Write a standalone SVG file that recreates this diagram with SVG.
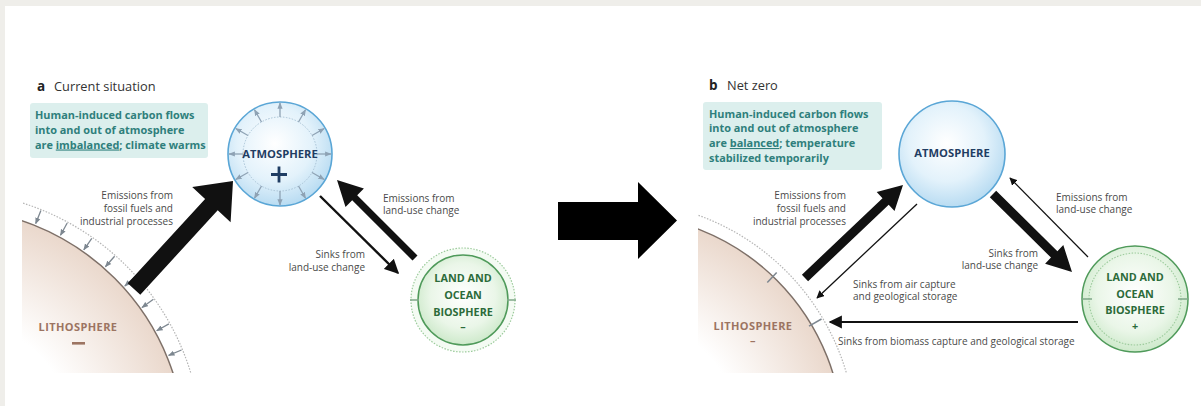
<svg xmlns="http://www.w3.org/2000/svg" width="1201" height="406" viewBox="0 0 1201 406">
<style>
.t{font-family:"Open Sans","Liberation Sans",sans-serif}
.lbl{font-family:"Open Sans","Liberation Sans",sans-serif;font-size:10px;fill:#4a4a4a}
.box{font-family:"Open Sans","Liberation Sans",sans-serif;font-size:10.9px;font-weight:bold;fill:#2f7f7c}
.atm{font-family:"Open Sans","Liberation Sans",sans-serif;font-size:11.2px;font-weight:bold;fill:#1f3d63}
.land{font-family:"Open Sans","Liberation Sans",sans-serif;font-size:10.8px;font-weight:bold;fill:#2c6b3a}
.lith{font-family:"Open Sans","Liberation Sans",sans-serif;font-size:11px;font-weight:bold;fill:#9c7462;letter-spacing:0.4px}
.thick{fill:#111}
.thin{stroke:#111;fill:none}
.tick{stroke:#8ea2b4;stroke-width:1.3}
</style>
<defs>
<radialGradient id="gAtm" cx="0.45" cy="0.4" r="0.6">
<stop offset="0" stop-color="#ffffff"/>
<stop offset="0.6" stop-color="#e3f2fb"/>
<stop offset="1" stop-color="#b9dcf2"/>
</radialGradient>
<radialGradient id="gLand" cx="0.5" cy="0.45" r="0.6">
<stop offset="0" stop-color="#ffffff"/>
<stop offset="0.6" stop-color="#eaf6e8"/>
<stop offset="1" stop-color="#c6e6c3"/>
</radialGradient>
<radialGradient id="gLithA" gradientUnits="userSpaceOnUse" cx="-55" cy="448" r="240">
<stop offset="0.55" stop-color="#ffffff"/>
<stop offset="1" stop-color="#ead8cc"/>
</radialGradient>
<radialGradient id="gLithB" gradientUnits="userSpaceOnUse" cx="617" cy="440" r="226">
<stop offset="0.55" stop-color="#ffffff"/>
<stop offset="1" stop-color="#ead8cc"/>
</radialGradient>
<clipPath id="clipA"><rect x="22" y="150" width="300" height="223"/></clipPath>
<clipPath id="clipB"><rect x="698" y="150" width="300" height="223"/></clipPath>
<marker id="mh" viewBox="0 0 10 10" refX="9" refY="5" markerWidth="6" markerHeight="6" orient="auto">
<path d="M0,0 L10,5 L0,10 z" fill="#111"/>
</marker>
<marker id="tk" viewBox="0 0 10 10" refX="9" refY="5" markerWidth="5" markerHeight="5" orient="auto">
<path d="M0,1 L10,5 L0,9 z" fill="#8ea2b4"/>
</marker>
<marker id="tkl" viewBox="0 0 10 10" refX="9" refY="5" markerWidth="5" markerHeight="5" orient="auto">
<path d="M0,1 L10,5 L0,9 z" fill="#7d8790"/>
</marker>
</defs>

<rect x="0" y="0" width="1201" height="406" fill="#ffffff"/>
<rect x="0" y="0" width="1201" height="6" fill="#efeeea"/>
<rect x="0" y="0" width="5" height="406" fill="#efeeea"/>

<!-- Panel a -->
<g id="title-a">
<text class="t" x="37" y="91" font-size="13.5" font-weight="bold" fill="#222">a</text>
<text class="t" x="54" y="91" font-size="12.8" fill="#333">Current situation</text>
</g>
<g id="note-a">
<rect x="30" y="103" width="178" height="55" rx="3" fill="#dcefed"/>
<text class="box" x="35" y="119">Human-induced carbon flows</text>
<text class="box" x="35" y="133.8">into and out of atmosphere</text>
<text class="box" x="35" y="148.5">are <tspan text-decoration="underline">imbalanced</tspan>; climate warms</text>
</g>

<g id="lithosphere-a">
<g clip-path="url(#clipA)">
<circle cx="-55" cy="448" r="257" fill="#ffffff" stroke="#b5b5b5" stroke-width="1.2" stroke-dasharray="1.5 1.5"/>
<circle cx="-55" cy="448" r="240" fill="url(#gLithA)" stroke="#7e7068" stroke-width="1.5"/>
<g class="tick" style="stroke:#7d8790">
<line x1="40.9" y1="210.6" x2="35.7" y2="223.6" marker-end="url(#tkl)"/>
<line x1="67.2" y1="223.0" x2="60.5" y2="235.3" marker-end="url(#tkl)"/>
<line x1="91.8" y1="238.3" x2="83.8" y2="249.8" marker-end="url(#tkl)"/>
<line x1="114.6" y1="256.3" x2="105.4" y2="266.7" marker-end="url(#tkl)"/>
<line x1="135.2" y1="276.7" x2="124.8" y2="286.1" marker-end="url(#tkl)"/>
<line x1="153.4" y1="299.3" x2="142.0" y2="307.5" marker-end="url(#tkl)"/>
<line x1="168.9" y1="323.9" x2="156.7" y2="330.7" marker-end="url(#tkl)"/>
<line x1="181.5" y1="350.0" x2="168.6" y2="355.4" marker-end="url(#tkl)"/>
</g>
</g>
<text class="lith" x="78" y="331" text-anchor="middle">LITHOSPHERE</text>
<rect x="72" y="342" width="13" height="2.6" fill="#9c7462"/>
</g>

<g id="atmosphere-a">
<circle cx="280" cy="154" r="52" fill="url(#gAtm)" stroke="#5aa6d6" stroke-width="1.6"/>
<circle cx="280" cy="154" r="37" fill="none" stroke="#a9c3d6" stroke-width="1" stroke-dasharray="1.5 1.5"/>
<g class="tick">
<line x1="317" y1="154" x2="331" y2="154" marker-end="url(#tk)"/>
<line x1="312" y1="135.5" x2="324.2" y2="128.5" marker-end="url(#tk)"/>
<line x1="298.5" y1="122" x2="305.5" y2="109.8" marker-end="url(#tk)"/>
<line x1="280" y1="117" x2="280" y2="103" marker-end="url(#tk)"/>
<line x1="261.5" y1="122" x2="254.5" y2="109.8" marker-end="url(#tk)"/>
<line x1="248" y1="135.5" x2="235.8" y2="128.5" marker-end="url(#tk)"/>
<line x1="243" y1="154" x2="229" y2="154" marker-end="url(#tk)"/>
<line x1="248" y1="172.5" x2="235.8" y2="179.5" marker-end="url(#tk)"/>
<line x1="261.5" y1="186" x2="254.5" y2="198.2" marker-end="url(#tk)"/>
<line x1="280" y1="191" x2="280" y2="205" marker-end="url(#tk)"/>
<line x1="298.5" y1="186" x2="305.5" y2="198.2" marker-end="url(#tk)"/>
<line x1="312" y1="172.5" x2="324.2" y2="179.5" marker-end="url(#tk)"/>
</g>
<text class="atm" x="280" y="158" text-anchor="middle">ATMOSPHERE</text>
<path d="M271,174.5 H287 M279,166.5 V182.5" stroke="#1f3d63" stroke-width="2.8" fill="none"/>
</g>

<g id="land-a">
<circle cx="463" cy="300" r="52" fill="#f4fbf3" stroke="#9ccb9c" stroke-width="1.2" stroke-dasharray="1.5 1.5"/>
<circle cx="463" cy="300" r="45" fill="url(#gLand)" stroke="#4f9a5a" stroke-width="1.5"/>
<path d="M410,300 H419 M507,300 H516" stroke="#7fa888" stroke-width="1.5"/>
<text class="land" x="463" y="282" text-anchor="middle">LAND AND</text>
<text class="land" x="463" y="299" text-anchor="middle">OCEAN</text>
<text class="land" x="463" y="315.5" text-anchor="middle">BIOSPHERE</text>
<text class="land" x="463" y="331" text-anchor="middle">–</text>
</g>

<g id="connectors-a">
<polygon class="thick" points="127.7,283.3 205.1,198.9 192.2,187.0 233,181 230.6,222.2 217.7,210.3 140.3,294.7"/>
<polygon class="thick" points="412.5,260.5 352.2,200.2 345.5,206.9 337,180 363.9,188.5 357.2,195.2 417.5,255.5"/>
<line class="thin" x1="320" y1="196" x2="398" y2="273" stroke-width="2.4" marker-end="url(#mh)"/>
</g>
<g id="labels-a">
<text class="lbl" text-anchor="end"><tspan x="173" y="198.5">Emissions from</tspan><tspan x="173" y="211.5">fossil fuels and</tspan><tspan x="173" y="224.5">industrial processes</tspan></text>
<text class="lbl"><tspan x="383" y="201.5">Emissions from</tspan><tspan x="383" y="213.5">land-use change</tspan></text>
<text class="lbl" text-anchor="end"><tspan x="365" y="257.5">Sinks from</tspan><tspan x="365" y="270.5">land-use change</tspan></text>
</g>

<!-- Middle arrow -->
<g id="transition-arrow">
<polygon fill="#000" points="558,202 638,202 638,182 677,220.5 638,259 638,240 558,240"/>
</g>

<!-- Panel b -->
<g id="title-b">
<text class="t" x="709" y="90" font-size="13.5" font-weight="bold" fill="#222">b</text>
<text class="t" x="727" y="90" font-size="12.8" fill="#333">Net zero</text>
</g>
<g id="note-b">
<rect x="703" y="102" width="179" height="68" rx="3" fill="#dcefed"/>
<text class="box" x="709" y="117.5">Human-induced carbon flows</text>
<text class="box" x="709" y="132.2">into and out of atmosphere</text>
<text class="box" x="709" y="147">are <tspan text-decoration="underline">balanced</tspan>; temperature</text>
<text class="box" x="709" y="161.7">stabilized temporarily</text>
</g>

<g id="lithosphere-b">
<g clip-path="url(#clipB)">
<circle cx="617" cy="440" r="239" fill="#ffffff" stroke="#b5b5b5" stroke-width="1.2" stroke-dasharray="1.5 1.5"/>
<circle cx="617" cy="440" r="226" fill="url(#gLithB)" stroke="#7e7068" stroke-width="1.5"/>
<line x1="776.7" y1="272.4" x2="767.3" y2="282.4" stroke="#7d8790" stroke-width="1.5"/>
<line x1="821.5" y1="319.0" x2="809.0" y2="326.2" stroke="#7d8790" stroke-width="1.5"/>
</g>
<text class="lith" x="753" y="330" text-anchor="middle">LITHOSPHERE</text>
<text class="lith" x="753" y="344" text-anchor="middle">–</text>
</g>

<g id="atmosphere-b">
<circle cx="952" cy="154" r="53" fill="url(#gAtm)" stroke="#5aa6d6" stroke-width="1.6"/>
<text class="atm" x="952" y="157" text-anchor="middle">ATMOSPHERE</text>
</g>

<g id="land-b">
<circle cx="1135" cy="299" r="53" fill="url(#gLand)" stroke="#4f9a5a" stroke-width="1.5"/>
<circle cx="1135" cy="299" r="46" fill="none" stroke="#9ccb9c" stroke-width="1.1" stroke-dasharray="1.5 1.5"/>
<path d="M1082,299 H1092 M1178,299 H1188" stroke="#7fa888" stroke-width="1.5"/>
<text class="land" x="1135" y="281" text-anchor="middle">LAND AND</text>
<text class="land" x="1135" y="297.5" text-anchor="middle">OCEAN</text>
<text class="land" x="1135" y="314" text-anchor="middle">BIOSPHERE</text>
<text class="land" x="1135" y="329.5" text-anchor="middle">+</text>
</g>

<g id="connectors-b">
<polygon class="thick" points="801.9,274.7 882.5,198.2 876.7,192.1 903,185 894.5,210.9 888.7,204.8 808.1,281.3"/>
<polygon class="thick" points="996.2,190.8 1057.4,251.2 1063.3,245.1 1072,272 1045.1,263.7 1051.0,257.6 989.8,197.2"/>
<line class="thin" x1="1088" y1="257" x2="1010" y2="178" stroke-width="1.3" marker-end="url(#mh)"/>
<line class="thin" x1="917" y1="204" x2="817" y2="298" stroke-width="1.3" marker-end="url(#mh)"/>
<line class="thin" x1="1078" y1="322" x2="830" y2="322" stroke-width="2.2" stroke="#333" marker-end="url(#mh)"/>
</g>
<g id="labels-b">
<text class="lbl" text-anchor="end"><tspan x="846" y="198.5">Emissions from</tspan><tspan x="846" y="211.5">fossil fuels and</tspan><tspan x="846" y="224.5">industrial processes</tspan></text>
<text class="lbl"><tspan x="1056" y="200.5">Emissions from</tspan><tspan x="1056" y="212.5">land-use change</tspan></text>
<text class="lbl" text-anchor="end"><tspan x="1038" y="256.5">Sinks from</tspan><tspan x="1038" y="268.5">land-use change</tspan></text>
<text class="lbl"><tspan x="853" y="287.5">Sinks from air capture</tspan><tspan x="853" y="299.5">and geological storage</tspan></text>
<text class="lbl" x="838" y="344.5">Sinks from biomass capture and geological storage</text>
</g>
</svg>
